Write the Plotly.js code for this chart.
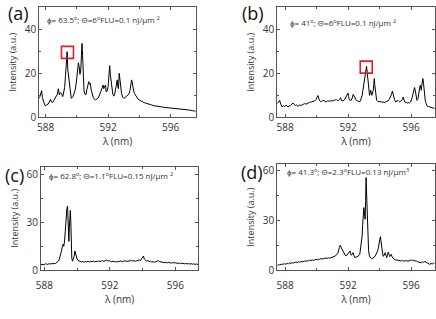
<!DOCTYPE html>
<html><head><meta charset="utf-8">
<script src="https://cdn.plot.ly/plotly-3.0.1.min.js"></script>
<style>html,body{margin:0;padding:0;background:#fff}#chart{width:436px;height:319px}</style>
</head><body><div id="chart"></div>
<script>
// ---- data ----
const lambdaA = [587.60,587.68,587.75,587.80,587.86,587.93,588.00,588.08,588.17,588.25,588.32,588.38,588.45,588.52,588.60,588.68,588.75,588.82,588.88,588.95,589.02,589.10,589.17,589.22,589.27,589.32,589.38,589.42,589.46,589.50,589.55,589.60,589.65,589.70,589.75,589.82,589.90,589.97,590.04,590.10,590.15,590.20,590.25,590.29,590.33,590.37,590.41,590.46,590.52,590.58,590.64,590.70,590.76,590.81,590.86,590.92,590.98,591.05,591.12,591.20,591.28,591.35,591.42,591.50,591.56,591.62,591.68,591.72,591.77,591.83,591.88,591.94,592.00,592.05,592.10,592.15,592.20,592.25,592.30,592.36,592.42,592.48,592.54,592.58,592.62,592.66,592.71,592.76,592.81,592.86,592.93,593.00,593.08,593.16,593.24,593.32,593.40,593.45,593.50,593.54,593.58,593.63,593.69,593.76,593.83,593.90,593.98,594.06,594.14,594.24,594.34,594.44,594.55,594.66,594.78,594.90,595.02,595.15,595.30,595.45,595.60,595.75,595.90,596.05,596.20,596.40,596.60,596.80,597.00,597.20,597.40,597.60];
const intensityA = [8.6,10.5,12.1,9.0,7.1,6.0,5.1,5.8,6.0,7.2,8.2,7.0,6.7,7.6,8.6,9.5,10.4,13.0,10.2,11.2,10.8,9.4,11.5,13.5,18.5,24,29.8,22,19,18.5,14,11,8.6,9.0,9.4,10.8,12.7,16,21.5,24.8,23,19.5,21.5,27,33.6,28,21,12,10.4,10.2,12.5,14.5,16.2,15.0,15.5,12.5,10.5,9.0,8.2,7.9,8.4,8.6,9.6,10.8,12.2,13.5,14.7,13.0,13.6,14.7,11.5,12.0,14.0,18,23.5,19,15.2,12,10.6,9.6,10.5,12.8,15.5,17,14,13,20,16,13.5,10.8,9.2,8.6,9.0,9.4,9.8,10.4,12.2,14.0,17,16,13.5,12,10.8,9.8,9.2,8.4,7.9,7.5,7.1,6.9,6.6,6.3,6.0,5.9,5.6,5.3,5.1,5.0,4.8,4.7,4.5,4.4,4.3,4.3,4.1,4.0,3.8,3.6,3.4,3.3,3.0,2.8];

const lambdaB = [587.50,587.57,587.65,587.72,587.80,587.88,587.97,588.06,588.18,588.27,588.35,588.43,588.50,588.57,588.64,588.72,588.81,588.92,589.02,589.12,589.23,589.33,589.44,589.55,589.66,589.76,589.87,589.95,590.02,590.08,590.13,590.17,590.25,590.30,590.38,590.46,590.53,590.61,590.70,590.82,590.92,591.03,591.13,591.25,591.33,591.40,591.47,591.52,591.56,591.61,591.67,591.73,591.80,591.88,591.94,591.99,592.03,592.07,592.13,592.20,592.26,592.32,592.37,592.41,592.46,592.52,592.58,592.62,592.68,592.73,592.78,592.83,592.89,592.94,592.99,593.04,593.09,593.13,593.17,593.21,593.24,593.27,593.30,593.33,593.36,593.40,593.43,593.47,593.51,593.56,593.60,593.63,593.66,593.69,593.72,593.76,593.81,593.88,593.94,594.02,594.11,594.20,594.32,594.42,594.53,594.62,594.70,594.76,594.81,594.85,594.89,594.95,595.02,595.10,595.17,595.22,595.27,595.35,595.44,595.50,595.55,595.59,595.68,595.76,595.85,595.90,595.96,596.01,596.07,596.12,596.17,596.22,596.27,596.31,596.35,596.37,596.41,596.44,596.48,596.52,596.56,596.59,596.62,596.65,596.68,596.71,596.75,596.79,596.82,596.86,596.90,596.96,597.03,597.10,597.18,597.26,597.33,597.42,597.50];
const intensityB = [6.2,6.8,7.7,6.0,4.7,5.2,5.0,5.5,4.7,5.2,5.4,6.0,6.5,5.8,5.4,5.6,5.0,5.6,5.4,5.8,6.2,6.0,6.5,6.8,7.0,7.2,7.4,8.0,9.2,9.9,8.8,7.7,7.3,7.0,7.6,7.7,7.2,7.0,7.5,7.3,7.6,7.4,7.8,8.0,7.6,7.7,8.2,8.9,8.0,7.4,7.6,7.7,8.3,9.2,10.2,11.0,9.5,8.0,7.8,7.7,8.8,10.4,9.8,9.2,8.3,7.7,7.5,7.4,7.2,7.0,7.5,8.5,10.0,12.3,14.5,16.9,19.5,21.4,23.2,20.5,18.4,15,12.3,11,10.0,11,12.3,11,10.0,11.5,12.3,15,17.6,15,12.3,10,7.7,7.2,7.0,7.1,7.0,6.9,6.8,7.1,7.4,8.2,9.2,10.5,11.9,10.6,9.2,8.0,7.0,7.3,7.7,7.3,7.0,7.4,8.0,9.2,8.2,7.0,6.8,6.5,6.7,6.5,6.9,7.7,9.0,10.7,12.2,13.5,12,10.4,8.5,7.7,8.0,8.5,11,13.0,14.0,14.6,13.5,12.3,14.5,16.9,17.6,15.5,13.0,10,7.7,6.2,5.0,4.9,4.7,4.5,4.4,4.2,4.0];

const lambdaC = [587.80,587.86,587.92,588.00,588.06,588.12,588.18,588.25,588.32,588.40,588.47,588.54,588.60,588.67,588.74,588.80,588.86,588.92,588.98,589.04,589.10,589.15,589.19,589.23,589.28,589.33,589.38,589.42,589.45,589.48,589.50,589.53,589.56,589.59,589.62,589.65,589.68,589.72,589.77,589.82,589.87,589.91,589.95,590.00,590.06,590.12,590.20,590.28,590.36,590.44,590.52,590.60,590.68,590.76,590.84,590.92,591.00,591.08,591.16,591.24,591.32,591.40,591.48,591.56,591.64,591.72,591.80,591.88,591.96,592.04,592.12,592.20,592.28,592.36,592.44,592.52,592.60,592.68,592.76,592.84,592.92,593.00,593.08,593.16,593.24,593.32,593.40,593.48,593.56,593.64,593.72,593.80,593.88,593.94,594.00,594.05,594.10,594.16,594.24,594.32,594.40,594.48,594.56,594.64,594.72,594.80,594.88,594.96,595.04,595.12,595.20,595.28,595.36,595.44,595.52,595.60,595.68,595.76,595.84,595.92,596.00,596.08,596.16,596.24,596.32,596.40,596.48,596.56,596.64,596.72,596.80,596.88,596.96,597.04,597.12,597.20,597.28,597.40];
const intensityC = [3.2,3.6,3.4,3.3,3.8,3.9,3.5,3.7,4.0,3.7,4.1,3.9,4.2,4.0,4.4,4.8,5.6,6.8,8.8,11.5,14.5,16.2,15.0,17.5,24,33,38.5,40.2,33,24,18,27,35,37.5,30,16,7.5,5.5,6.5,8.5,12.0,10.5,8.0,7.0,6.0,5.6,5.2,5.0,5.4,4.9,5.3,5.1,5.5,5.0,5.4,5.2,5.6,5.1,5.5,5.3,5.8,5.3,5.6,5.9,5.4,6.0,6.3,5.6,5.9,5.4,5.2,5.5,5.1,5.4,5.0,5.3,5.5,5.7,5.2,5.6,5.9,5.4,5.7,5.5,5.8,6.0,5.6,5.9,5.5,5.8,6.1,6.3,6.0,6.8,8.2,8.8,7.0,6.2,5.6,5.9,5.3,5.6,5.0,5.3,4.9,5.2,5.4,5.9,5.3,5.1,4.8,5.0,4.6,4.9,4.5,4.8,4.6,4.3,4.7,4.4,4.6,4.3,4.1,4.4,4.0,4.3,4.1,3.9,4.2,3.8,4.1,3.7,4.0,3.6,3.9,3.5,3.8,3.4];

const lambdaD = [587.50,587.58,587.66,587.74,587.82,587.90,587.97,588.05,588.13,588.21,588.29,588.37,588.45,588.53,588.60,588.68,588.76,588.84,588.92,589.00,589.08,589.16,589.24,589.32,589.40,589.48,589.56,589.64,589.72,589.80,589.87,589.95,590.03,590.11,590.19,590.27,590.35,590.43,590.50,590.58,590.66,590.74,590.82,590.93,591.02,591.10,591.19,591.28,591.36,591.44,591.50,591.55,591.61,591.68,591.74,591.81,591.88,591.95,592.04,592.08,592.12,592.16,592.20,592.25,592.31,592.36,592.42,592.50,592.58,592.66,592.74,592.78,592.82,592.86,592.89,592.92,592.95,592.98,593.00,593.04,593.08,593.11,593.14,593.17,593.20,593.23,593.26,593.30,593.35,593.41,593.47,593.55,593.64,593.72,593.79,593.85,593.90,593.94,593.98,594.02,594.05,594.08,594.11,594.14,594.17,594.22,594.26,594.31,594.36,594.40,594.45,594.50,594.55,594.60,594.64,594.69,594.74,594.79,594.85,594.92,595.00,595.06,595.14,595.22,595.30,595.38,595.46,595.54,595.62,595.70,595.78,595.86,595.94,596.01,596.09,596.17,596.25,596.33,596.41,596.49,596.57,596.65,596.73,596.81,596.88,596.96,597.04,597.11,597.18,597.26,597.34,597.42,597.50];
const intensityD = [2.8,3.3,3.0,3.6,3.4,3.9,3.8,3.5,4.0,3.8,4.3,4.0,4.4,4.2,4.4,4.8,4.5,5.0,4.7,5.2,4.9,5.4,5.5,5.2,5.7,5.5,6.0,5.7,6.1,5.8,6.1,6.4,6.1,6.6,6.4,6.9,6.6,7.0,6.9,7.3,7.0,7.4,7.1,7.5,7.8,8.0,8.5,9.5,10.5,13.5,15,13.8,12.5,11,9.5,9.0,8.5,9.2,10.5,11.0,11.5,10.0,8.9,9.5,10.5,9.0,7.5,7.8,8.1,8.6,9.5,12,14.5,18,20.6,27,34.7,37,37.8,34,30.7,42,56,48,38.8,28,18.6,12,8.5,7.2,6.9,7.1,7.5,8.5,9.5,11,12.5,15,17.6,19.5,20.2,18,15.6,12,9.5,8.3,8.5,9.5,10.5,9.0,7.5,9.0,10.9,9.5,8.1,8.8,9.5,8.0,6.9,6.5,6.2,6.1,5.8,6.0,5.6,5.5,5.9,5.3,5.6,5.5,5.8,5.4,5.9,6.1,5.7,5.9,5.4,5.5,5.0,4.8,4.5,4.4,4.9,4.6,5.2,4.8,4.2,3.7,3.4,4.0,3.6,4.2,4.0];

// highlighted peaks (red squares)
const markA_x = [589.40], markA_y = [29.5];
const markB_x = [593.15], markB_y = [22.8];

const panelLabels = ["(a)", "(b)", "(c)", "(d)"];
const paramTexts = [
  "ϕ= 63.5<sup>o</sup>; Θ=6<sup>o</sup>FLU=0.1 nJ/μm <sup>2</sup>",
  "ϕ= 41<sup>o</sup>; Θ=6<sup>o</sup>FLU=0.1 nJ/μm <sup>2</sup>",
  "ϕ= 62.8<sup>o</sup>; Θ=1.1<sup>o</sup>FLU=0.15 nJ/μm <sup>2</sup>",
  "ϕ= 41.3<sup>o</sup>; Θ=2.3<sup>o</sup>FLU=0.13 nJ/μm<sup>3</sup>"
];
const xTickVals = [588, 592, 596];
const xTitle = "λ (nm)";
const yTitle = "Intensity (a.u.)";

// ---- drawing ----
const W = 436, H = 319;
const FONT = "Open Sans, Arial, sans-serif";
const line = {color: "#000", width: 1};
const traces = [
  {x: lambdaA, y: intensityA, xaxis: "x", yaxis: "y", mode: "lines", line: line},
  {x: lambdaB, y: intensityB, xaxis: "x2", yaxis: "y2", mode: "lines", line: line},
  {x: lambdaC, y: intensityC, xaxis: "x3", yaxis: "y3", mode: "lines", line: line},
  {x: lambdaD, y: intensityD, xaxis: "x4", yaxis: "y4", mode: "lines", line: line},
  {x: markA_x, y: markA_y, xaxis: "x", yaxis: "y", mode: "markers",
   marker: {symbol: "square-open", size: 12, color: "#e01f26", line: {width: 1.6, color: "#e01f26"}}},
  {x: markB_x, y: markB_y, xaxis: "x2", yaxis: "y2", mode: "markers",
   marker: {symbol: "square-open", size: 12, color: "#e01f26", line: {width: 1.6, color: "#e01f26"}}}
];

// pixel boxes [left, right, top, bottom]
const boxes = [
  [39.3, 195.7, 7.3, 117.3],
  [277.3, 434.7, 7.3, 117.3],
  [41, 198.3, 166.7, 270],
  [277.3, 434.7, 164.3, 270]
];
const xRanges = [[587.6, 597.6], [587.5, 597.5], [587.8, 597.4], [587.5, 597.5]];
const yRanges = [[0, 50], [0, 50], [0, 65], [0, 64]];
const yDticks = [20, 20, 30, 30];
const xLabelGap = [1, 1, 6, 6];

function xax(i) {
  const b = boxes[i];
  return {
    domain: [b[0] / W, b[1] / W], range: xRanges[i], anchor: i === 0 ? "y" : "y" + (i + 1),
    tickvals: xTickVals, ticks: "inside", ticklen: 3, tickcolor: "#555",
    ticklabelstandoff: xLabelGap[i],
    minor: {dtick: 2, ticks: "inside", ticklen: 2, tickcolor: "#555"},
    showline: true, mirror: "ticks", linecolor: "#555", linewidth: 1,
    showgrid: false, zeroline: false,
    tickfont: {family: FONT, size: 10, color: "#333"},
    title: {text: xTitle, font: {family: FONT, size: 10, color: "#333"}, standoff: 4}
  };
}
function yax(i) {
  const b = boxes[i];
  return {
    domain: [1 - b[3] / H, 1 - b[2] / H], range: yRanges[i], anchor: i === 0 ? "x" : "x" + (i + 1),
    dtick: yDticks[i], tick0: 0, ticks: "inside", ticklen: 3, tickcolor: "#555",
    minor: {dtick: yDticks[i] / 2, ticks: "inside", ticklen: 2, tickcolor: "#555"},
    showline: true, mirror: "ticks", linecolor: "#555", linewidth: 1,
    showgrid: false, zeroline: false,
    tickfont: {family: FONT, size: 10, color: "#333"},
    title: {text: yTitle, font: {family: FONT, size: 9, color: "#333"}, standoff: 6}
  };
}

const labelPos = [[6, 12.5], [239.7, 12.5], [3, 174.5], [239, 171.5]];
const paramPos = [[45, 19.3], [288, 22], [46.7, 175], [284.7, 171]];
const annotations = [];
for (let i = 0; i < 4; i++) {
  annotations.push({xref: "paper", yref: "paper", x: labelPos[i][0] / W, y: 1 - labelPos[i][1] / H,
    xanchor: "left", yanchor: "middle", showarrow: false, text: panelLabels[i],
    font: {family: FONT, size: 18, color: "#111"}});
  annotations.push({xref: "paper", yref: "paper", x: paramPos[i][0] / W, y: 1 - paramPos[i][1] / H,
    xanchor: "left", yanchor: "middle", showarrow: false, text: paramTexts[i],
    font: {family: FONT, size: 8, color: "#333"}});
}

const layout = {
  width: W, height: H, margin: {l: 0, r: 0, t: 0, b: 0},
  paper_bgcolor: "#fff", plot_bgcolor: "#fff", showlegend: false,
  xaxis: xax(0), yaxis: yax(0), xaxis2: xax(1), yaxis2: yax(1),
  xaxis3: xax(2), yaxis3: yax(2), xaxis4: xax(3), yaxis4: yax(3),
  annotations: annotations
};
Plotly.newPlot("chart", traces, layout, {staticPlot: true, displayModeBar: false});
</script>
</body></html>
